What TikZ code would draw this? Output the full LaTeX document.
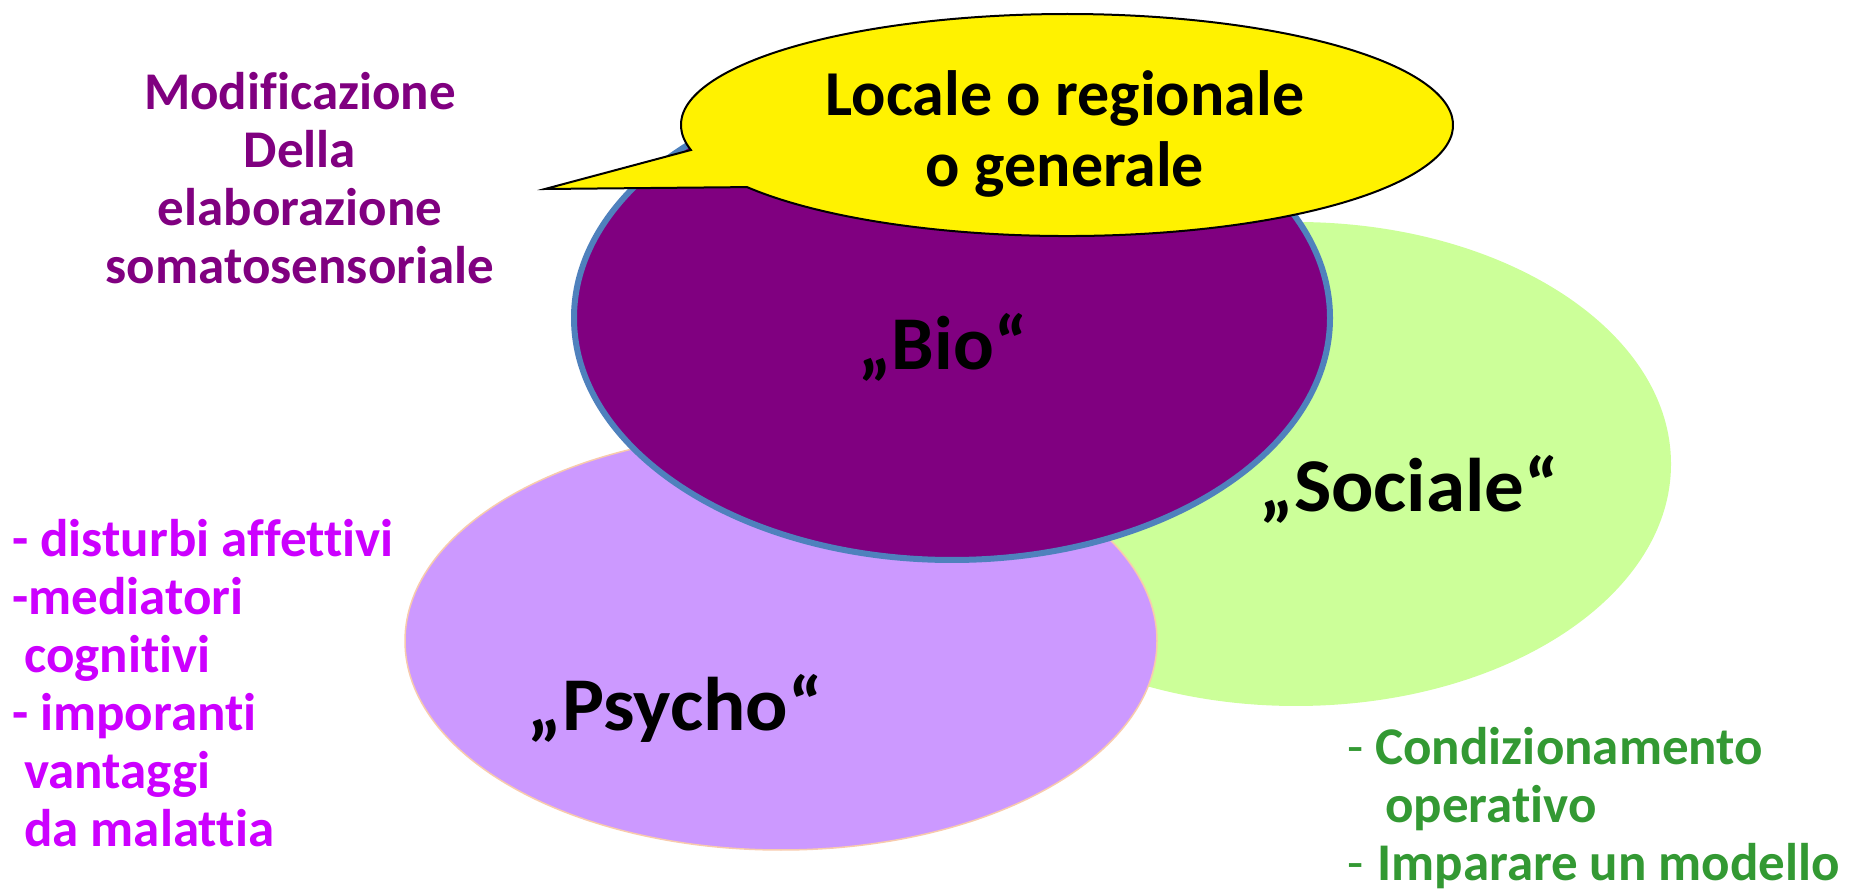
\documentclass[tikz,border=0pt]{standalone}
\usepackage{fontspec}
\setmainfont{Carlito}[Ligatures=NoCommon]
\newfontfamily\widefont{Carlito}[FakeStretch=1.04]
\usetikzlibrary{shapes.geometric}

\definecolor{biofill}{HTML}{800080}
\definecolor{bioline}{HTML}{4F81BD}
\definecolor{psychofill}{HTML}{CC99FF}
\definecolor{psycholine}{HTML}{F8CBAD}
\definecolor{socialefill}{HTML}{CCFF99}
\definecolor{psychotext}{HTML}{CC00FF}
\definecolor{socialetext}{HTML}{339933}

\begin{document}
\begin{tikzpicture}[x=1pt, y=1pt, blob/.style={ellipse, inner sep=0pt}, bigtext/.style={font=\fontsize{76}{88}\selectfont\bfseries}, sidetext/.style={font=\fontsize{53}{58}\selectfont\bfseries, inner sep=0pt}]

  \useasboundingbox (0,0) rectangle (1856,892);

  % the three spheres
  \node[blob, fill=socialefill, minimum width=750pt, minimum height=484pt] (sociale) at (1296,428) {};
  \node[blob, fill=psychofill, draw=psycholine, line width=1.5pt, minimum width=752pt, minimum height=418pt] (psycho) at (781,251) {};
  \node[blob, fill=biofill, draw=bioline, line width=6pt, minimum width=756pt, minimum height=484pt] (bio) at (952,574) {};

  % speech bubble
  \coordinate (tip) at (545,703);
  \draw[fill=yellow, line width=2pt] (tip) -- (690.9,742.0) arc[start angle=193, end angle=-146, x radius=386, y radius=111] -- cycle;
  \node[font=\fontsize{64}{71}\selectfont\bfseries, align=center] (scope) at (1065,758) {Locale o regionale\\o generale};

  \node[bigtext] (biolabel) at (943,545) {„Bio“};
  \node[bigtext] (socialelabel) at (1409,403) {\widefont „Sociale“};
  \node[bigtext] (psycholabel) at (675,184) {\widefont „Psycho“};

  % side notes
  \node[sidetext, text=biofill, align=center] (bionote) at (300,714) {Modificazione\\Della\\elaborazione\\somatosensoriale};
  \node[sidetext, text=psychotext, align=left, anchor=west] (psychonote) at (12,209) {- disturbi affettivi\\-mediatori\\\hspace*{12pt}cognitivi\\- imporanti\\\hspace*{12pt}vantaggi\\\hspace*{12pt}da malattia};
  \node[sidetext, text=socialetext, align=left, anchor=west] (socialenote) at (1347,84) {\textmd{-} Condizionamento\\\hspace*{38pt}operativo\\\textmd{-}\hspace*{14pt}Imparare un modello};

\end{tikzpicture}
\end{document}
